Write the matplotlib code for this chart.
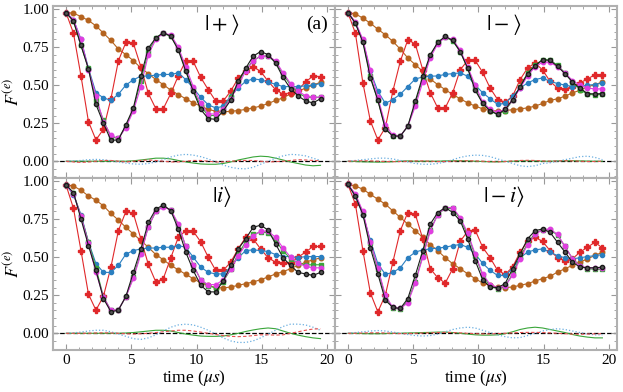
import numpy as np
import matplotlib
matplotlib.use("Agg")
import matplotlib.pyplot as plt
from matplotlib.ticker import MultipleLocator

plt.rcParams['font.family'] = ['Liberation Serif', 'DejaVu Serif']
plt.rcParams['mathtext.fontset'] = 'stix'

# time grid (us) - 35 samples
t = np.linspace(0, 19.5, 35)

kets = [r'$|+\rangle$', r'$|-\rangle$', r'$|i\rangle$', r'$|-i\rangle$']

# ---- panel |+> ----
brown_p = [0.976,0.972,0.95,0.924,0.889,0.841,0.793,0.736,0.70,0.66,0.612,0.575,0.536,0.503,0.466,0.438,0.41,0.383,0.362,0.34,0.329,0.325,0.327,0.333,0.34,0.35,0.362,0.379,0.399,0.416,0.442,0.46,0.48,0.50,0.518]
blue_p = [0.976,0.93,0.80,0.61,0.45,0.416,0.40,0.44,0.50,0.535,0.558,0.56,0.565,0.57,0.57,0.58,0.536,0.48,0.42,0.37,0.35,0.36,0.43,0.48,0.525,0.54,0.535,0.52,0.505,0.49,0.49,0.49,0.495,0.50,0.51]
black_p = [0.976,0.92,0.76,0.606,0.373,0.25,0.137,0.14,0.24,0.35,0.558,0.743,0.81,0.845,0.82,0.73,0.59,0.46,0.34,0.28,0.275,0.33,0.40,0.525,0.61,0.69,0.72,0.70,0.645,0.55,0.475,0.43,0.395,0.383,0.41]
green_p = [0.976,0.92,0.76,0.61,0.40,0.27,0.16,0.15,0.23,0.34,0.53,0.72,0.81,0.84,0.82,0.74,0.60,0.47,0.36,0.30,0.30,0.34,0.42,0.52,0.60,0.66,0.69,0.69,0.65,0.57,0.50,0.45,0.42,0.42,0.42]
magenta_p = [0.976,0.93,0.80,0.60,0.43,0.26,0.17,0.15,0.22,0.33,0.49,0.70,0.80,0.84,0.83,0.75,0.62,0.49,0.38,0.31,0.31,0.34,0.41,0.50,0.59,0.66,0.69,0.69,0.66,0.58,0.51,0.46,0.43,0.42,0.42]
red_p = [0.976,0.84,0.56,0.26,0.14,0.21,0.41,0.66,0.78,0.775,0.62,0.445,0.345,0.345,0.445,0.56,0.66,0.655,0.55,0.47,0.395,0.395,0.46,0.545,0.59,0.62,0.59,0.525,0.47,0.44,0.45,0.47,0.52,0.56,0.555]
dgreen_p = [0,0,0,0,0,0,0,0,0,0.003,0.008,0.014,0.02,0.02,0.015,0.005,-0.005,-0.012,-0.018,-0.02,-0.02,-0.015,-0.005,0.008,0.018,0.028,0.033,0.03,0.02,0.008,-0.005,-0.015,-0.025,-0.03,-0.027]
dblue_p = [0,0.002,0.005,0.01,0.012,0.01,0.003,-0.005,-0.012,-0.018,-0.02,-0.015,-0.005,0.01,0.028,0.04,0.045,0.04,0.03,0.015,-0.005,-0.025,-0.04,-0.048,-0.05,-0.04,-0.02,0,0.02,0.035,0.045,0.042,0.035,0.02,0.005]
dred_p = [0,-0.005,-0.008,-0.005,0,0.005,0.005,0,-0.005,0,0.005,0.008,0.005,0,-0.005,-0.005,0,0.005,0.005,0,-0.005,-0.005,0,0.003,0.005,0.005,0,-0.005,-0.003,0,0.005,0.01,0.008,0.005,0.003]

# ---- panel |-> ----
brown_m = [0.976,0.967,0.94,0.906,0.867,0.83,0.787,0.736,0.678,0.634,0.59,0.54,0.503,0.47,0.438,0.41,0.383,0.362,0.344,0.333,0.329,0.333,0.338,0.344,0.35,0.362,0.379,0.399,0.41,0.427,0.449,0.466,0.488,0.503,0.52]
blue_m = [0.976,0.906,0.79,0.59,0.46,0.38,0.405,0.44,0.49,0.54,0.553,0.558,0.56,0.57,0.575,0.58,0.558,0.50,0.45,0.41,0.373,0.38,0.427,0.48,0.514,0.536,0.547,0.525,0.51,0.50,0.49,0.49,0.50,0.503,0.514]
black_m = [0.976,0.906,0.78,0.547,0.40,0.21,0.165,0.165,0.23,0.395,0.557,0.70,0.78,0.82,0.793,0.72,0.61,0.466,0.38,0.33,0.307,0.34,0.405,0.488,0.575,0.627,0.667,0.662,0.623,0.575,0.52,0.48,0.444,0.442,0.444]
green_m = [0.976,0.91,0.79,0.56,0.40,0.22,0.165,0.165,0.23,0.38,0.54,0.69,0.78,0.815,0.79,0.72,0.61,0.48,0.38,0.33,0.31,0.33,0.40,0.49,0.58,0.63,0.665,0.665,0.63,0.58,0.52,0.47,0.44,0.435,0.44]
magenta_m = [0.976,0.915,0.80,0.60,0.42,0.24,0.17,0.165,0.23,0.36,0.52,0.68,0.77,0.815,0.80,0.73,0.62,0.50,0.39,0.34,0.32,0.34,0.40,0.48,0.56,0.62,0.65,0.65,0.62,0.58,0.53,0.50,0.48,0.475,0.475]
red_m = [0.976,0.84,0.514,0.264,0.14,0.22,0.46,0.656,0.797,0.77,0.60,0.45,0.35,0.35,0.45,0.60,0.662,0.662,0.584,0.48,0.405,0.388,0.427,0.536,0.612,0.645,0.60,0.525,0.48,0.475,0.49,0.514,0.54,0.568,0.568]
dgreen_m = [0,-0.002,-0.004,-0.005,-0.006,-0.005,-0.003,0,0.002,0,0,0,0,0.002,0.003,0.003,0.002,0,-0.002,-0.004,-0.004,-0.002,0,0.002,0.003,0.002,0,0,0.002,0.003,0.003,0.002,0.001,0,0]
dblue_m = [0,0.005,0.01,0.015,0.02,0.02,0.015,0.005,-0.005,-0.015,-0.02,-0.02,-0.015,-0.005,0.01,0.025,0.035,0.04,0.038,0.03,0.015,0,-0.015,-0.03,-0.035,-0.03,-0.015,-0.01,0,0.01,0.02,0.03,0.033,0.025,0.01]
dred_m = [0,0.002,0.003,0.002,0,-0.002,-0.003,-0.002,0,0.002,0.002,0,-0.002,-0.002,0,0.002,0.003,0.002,0,-0.003,-0.004,-0.002,0.002,0.005,0.006,0.005,0.002,0,0.002,0.003,0.002,0,-0.002,-0.002,0]

# ---- panel |i> ----
brown_i = [0.974,0.967,0.939,0.902,0.874,0.837,0.787,0.743,0.696,0.652,0.609,0.565,0.517,0.483,0.446,0.417,0.387,0.359,0.33,0.315,0.30,0.298,0.304,0.315,0.326,0.337,0.352,0.37,0.39,0.405,0.424,0.446,0.467,0.483,0.495]
blue_i = [0.974,0.91,0.78,0.60,0.457,0.40,0.40,0.446,0.52,0.543,0.554,0.56,0.56,0.565,0.565,0.576,0.565,0.50,0.435,0.40,0.39,0.39,0.435,0.496,0.543,0.548,0.543,0.537,0.517,0.504,0.504,0.496,0.504,0.504,0.504]
black_i = [0.974,0.924,0.75,0.576,0.413,0.228,0.141,0.152,0.243,0.40,0.554,0.728,0.815,0.843,0.804,0.685,0.533,0.413,0.315,0.272,0.272,0.343,0.446,0.554,0.62,0.696,0.71,0.678,0.587,0.496,0.446,0.40,0.39,0.38,0.40]
green_i = [0.974,0.92,0.77,0.60,0.43,0.24,0.15,0.155,0.24,0.37,0.53,0.70,0.80,0.835,0.81,0.71,0.57,0.45,0.35,0.31,0.30,0.34,0.42,0.52,0.60,0.65,0.665,0.66,0.61,0.54,0.49,0.46,0.45,0.45,0.45]
magenta_i = [0.974,0.915,0.77,0.59,0.40,0.24,0.15,0.155,0.24,0.36,0.52,0.70,0.80,0.83,0.81,0.72,0.57,0.45,0.35,0.32,0.32,0.35,0.42,0.51,0.58,0.64,0.67,0.67,0.63,0.56,0.50,0.46,0.44,0.43,0.43]
red_i = [0.974,0.82,0.543,0.257,0.152,0.243,0.435,0.674,0.80,0.787,0.62,0.452,0.337,0.359,0.496,0.63,0.674,0.67,0.60,0.50,0.413,0.413,0.467,0.554,0.63,0.62,0.554,0.496,0.467,0.46,0.46,0.50,0.533,0.57,0.57]
dgreen_i = [0,0,0,0,0,0,0,0,0.002,0.005,0.01,0.015,0.02,0.02,0.015,0.005,-0.005,-0.012,-0.018,-0.02,-0.02,-0.018,-0.01,0,0.012,0.022,0.03,0.035,0.03,0.015,0,-0.012,-0.022,-0.03,-0.035]
dblue_i = [0,0.003,0.008,0.015,0.02,0.02,0.01,-0.005,-0.02,-0.035,-0.04,-0.03,-0.01,0.015,0.04,0.055,0.06,0.055,0.04,0.02,-0.005,-0.03,-0.05,-0.06,-0.06,-0.05,-0.03,-0.005,0.02,0.045,0.06,0.06,0.055,0.04,0.02]
dred_i = [0,0,0,0,0.002,0.003,0.002,0,-0.003,-0.005,-0.003,0,0.005,0.01,0.015,0.02,0.02,0.015,0.008,0,-0.008,-0.015,-0.02,-0.022,-0.02,-0.015,-0.01,-0.01,-0.012,-0.01,0,0.01,0.02,0.028,0.03]

# ---- panel |-i> ----
brown_mi = [0.978,0.967,0.946,0.913,0.88,0.848,0.804,0.761,0.717,0.674,0.63,0.583,0.543,0.496,0.457,0.424,0.391,0.359,0.33,0.315,0.304,0.30,0.304,0.315,0.326,0.343,0.359,0.374,0.402,0.424,0.446,0.467,0.489,0.511,0.533]
blue_mi = [0.978,0.90,0.78,0.61,0.457,0.387,0.40,0.43,0.496,0.533,0.548,0.554,0.56,0.565,0.576,0.583,0.565,0.52,0.46,0.413,0.38,0.38,0.424,0.496,0.533,0.548,0.554,0.533,0.51,0.496,0.489,0.496,0.504,0.51,0.517]
black_mi = [0.978,0.90,0.78,0.56,0.39,0.217,0.17,0.163,0.228,0.38,0.543,0.717,0.793,0.826,0.793,0.739,0.62,0.478,0.352,0.304,0.30,0.326,0.424,0.52,0.62,0.674,0.685,0.663,0.598,0.533,0.467,0.435,0.43,0.43,0.435]
green_mi = [0.978,0.91,0.79,0.59,0.42,0.24,0.165,0.16,0.21,0.34,0.51,0.68,0.78,0.82,0.82,0.75,0.65,0.51,0.38,0.31,0.29,0.31,0.39,0.50,0.59,0.655,0.68,0.68,0.645,0.57,0.49,0.445,0.425,0.42,0.42]
magenta_mi = [0.978,0.915,0.80,0.60,0.43,0.25,0.17,0.163,0.20,0.33,0.50,0.67,0.78,0.826,0.826,0.76,0.66,0.52,0.39,0.32,0.30,0.31,0.38,0.49,0.58,0.65,0.68,0.685,0.65,0.57,0.49,0.44,0.43,0.43,0.43]
red_mi = [0.978,0.848,0.543,0.265,0.141,0.25,0.467,0.674,0.793,0.783,0.62,0.424,0.365,0.33,0.424,0.604,0.67,0.678,0.565,0.496,0.413,0.387,0.435,0.533,0.604,0.63,0.604,0.543,0.496,0.478,0.489,0.533,0.565,0.598,0.56]
dgreen_mi = [0,0,-0.002,-0.003,-0.003,-0.002,0,0,0.002,0.003,0.005,0.006,0.008,0.008,0.005,0,-0.005,-0.01,-0.012,-0.012,-0.01,-0.003,0.01,0.025,0.035,0.04,0.035,0.025,0.015,0.005,-0.008,-0.018,-0.025,-0.03,-0.03]
dblue_mi = [0,0.005,0.01,0.015,0.018,0.015,0.008,0,-0.008,-0.015,-0.018,-0.015,-0.005,0.01,0.025,0.035,0.04,0.035,0.02,0.005,-0.01,-0.022,-0.03,-0.028,-0.015,0,0.015,0.025,0.03,0.025,0.015,0.005,-0.005,-0.01,-0.01]
dred_mi = [0,0,0.002,0.003,0.003,0.002,0,-0.002,-0.002,0,0.002,0.003,0.005,0.006,0.005,0.003,0,-0.003,-0.004,-0.004,-0.002,0,0.003,0.005,0.006,0.006,0.005,0.003,0,-0.003,-0.005,-0.006,-0.005,-0.004,-0.003]

panels = [
    (brown_p, blue_p, green_p, magenta_p, black_p, red_p, dgreen_p, dblue_p, dred_p),
    (brown_m, blue_m, green_m, magenta_m, black_m, red_m, dgreen_m, dblue_m, dred_m),
    (brown_i, blue_i, green_i, magenta_i, black_i, red_i, dgreen_i, dblue_i, dred_i),
    (brown_mi, blue_mi, green_mi, magenta_mi, black_mi, red_mi, dgreen_mi, dblue_mi, dred_mi),
]

c_brown = '#b5631e'
c_blue = '#2b7fc0'
c_green = '#3aa63a'
c_mag = '#e03ee0'
c_black = '#1a1a1a'
c_red = '#e0282a'

fig, axs = plt.subplots(2, 2, figsize=(6.23, 3.92), dpi=100, sharex=True, sharey=True)
plt.subplots_adjust(left=0.085, right=0.99, top=0.985, bottom=0.107, hspace=0, wspace=0)

for k, ax in enumerate(axs.flat):
    br, bl, gr, mg, bk, rd, dg, db, dr = panels[k]
    ax.axhline(0, color='k', ls='--', lw=0.9, zorder=1)
    ax.plot(t, dg, color=c_green, lw=0.8)
    ax.plot(t, db, color='#6aaee0', lw=0.9, ls=':')
    ax.plot(t, dr, color='#e85050', lw=0.8, ls='--', dashes=(3, 2))
    ax.plot(t, br, color=c_brown, lw=0.8, marker='o', ms=3.3)
    ax.plot(t, rd, color=c_red, lw=0.8, marker='P', ms=4.2)
    ax.plot(t, bl, color=c_blue, lw=0.8, marker='o', ms=3)
    ax.plot(t, gr, color=c_green, lw=0.8, marker='s', ms=2.8)
    ax.plot(t, mg, color=c_mag, lw=0.8, marker='o', ms=3.2)
    ax.plot(t, bk, color=c_black, lw=0.8, marker='o', ms=3, mfc='#555555')

    ax.set_xlim(-1, 20.6)
    ax.set_ylim(-0.11, 1.02)
    ax.xaxis.set_major_locator(MultipleLocator(5))
    ax.xaxis.set_minor_locator(MultipleLocator(1))
    ax.yaxis.set_major_locator(MultipleLocator(0.25))
    ax.yaxis.set_minor_locator(MultipleLocator(0.05))
    ax.tick_params(which='both', direction='in', top=True, right=True, color='#999999', labelsize=11)
    ax.tick_params(which='major', length=4, pad=2.5)
    ax.tick_params(which='minor', length=2)
    for s in ax.spines.values():
        s.set_color('#b0b0b0')
        s.set_linewidth(1.5)
    ax.text(0.6, 0.89, kets[k], transform=ax.transAxes, ha='center', va='center', fontsize=16)

axs[0, 0].text(0.975, 0.89, '(a)', transform=axs[0, 0].transAxes, ha='right', va='center', fontsize=14)
axs[0, 0].set_yticks([0.0, 0.25, 0.5, 0.75, 1.0])
axs[0, 0].set_yticklabels(['0.00', '0.25', '0.50', '0.75', '1.00'])
for ax in axs[:, 0]:
    ax.set_ylabel(r'$F^{(e)}$', fontsize=13)
    ax.yaxis.set_label_coords(-0.108, 0.5)
for ax in axs[1, :]:
    ax.set_xlabel(r'time ($\mu s$)', fontsize=12.5, labelpad=1)

plt.savefig('out.png', dpi=100)
